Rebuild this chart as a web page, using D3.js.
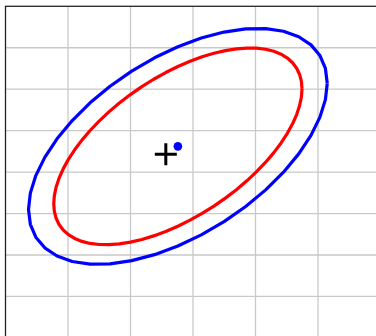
<!DOCTYPE html>
<html>
<head>
<meta charset="utf-8">
<script src="https://cdn.jsdelivr.net/npm/d3@7"></script>
<style>
  html, body { margin: 0; padding: 0; background: #fff; overflow: hidden; }
  svg { display: block; }
</style>
</head>
<body>
<script>
// ---- data ----
const xTicks = [-2, -1, 0, 1, 2];
const yTicks = [-3, -2, -1, 0, 1, 2, 3];
const xDomain = [-3, 3];
const yDomain = [4, -4];

// estimated mean (blue dot) and true centre (black plus)
const estMean = [-0.242, 0.621];
const trueMean = [-0.435, 0.43];

// confidence ellipses: [halfWidthX, halfHeightY, correlation]
const blueEllipse = [2.39, 2.846, 0.535];
const redEllipse = [1.986, 2.373, 0.584];

// ---- layout ----
const W = 376, H = 336;
const svg = d3.select("body").append("svg").attr("width", W).attr("height", H);

const x = d3.scaleLinear().domain(xDomain).range([5.5, 380.5]);
const y = d3.scaleLinear().domain(yDomain).range([6.3, 337.9]);

// grid
svg.append("g").selectAll("line").data(xTicks).join("line")
  .attr("x1", d => x(d)).attr("x2", d => x(d))
  .attr("y1", y(yDomain[0])).attr("y2", y(yDomain[1]))
  .attr("stroke", "#c9c9c9").attr("stroke-width", 1.3);
svg.append("g").selectAll("line").data(yTicks).join("line")
  .attr("y1", d => y(d)).attr("y2", d => y(d))
  .attr("x1", x(xDomain[0])).attr("x2", x(xDomain[1]))
  .attr("stroke", "#c9c9c9").attr("stroke-width", 1.3);

// frame
svg.append("rect")
  .attr("x", x(xDomain[0])).attr("y", y(yDomain[0]))
  .attr("width", x(xDomain[1]) - x(xDomain[0]))
  .attr("height", y(yDomain[1]) - y(yDomain[0]))
  .attr("fill", "none").attr("stroke", "#222").attr("stroke-width", 1.3);

function ellipsePoints(center, e, n) {
  const [ax, ay, rho] = e;
  const delta = Math.acos(rho);
  return d3.range(n + 1).map(i => {
    const t = 2 * Math.PI * i / n;
    return [center[0] + ax * Math.cos(t), center[1] + ay * Math.cos(t - delta)];
  });
}
const line = d3.line().x(d => x(d[0])).y(d => y(d[1]));

svg.append("path").attr("d", line(ellipsePoints(estMean, blueEllipse, 40)))
  .attr("fill", "none").attr("stroke", "#0000ff").attr("stroke-width", 3.2)
  .attr("stroke-linejoin", "round");
svg.append("path").attr("d", line(ellipsePoints(estMean, redEllipse, 64)))
  .attr("fill", "none").attr("stroke", "#ff0000").attr("stroke-width", 3.2)
  .attr("stroke-linejoin", "round");

// plus marker
const s = d3.symbol().type(d3.symbolCross);
const px = x(trueMean[0]), py = y(trueMean[1]);
svg.append("path")
  .attr("d", `M${px - 11},${py}H${px + 11}M${px},${py - 11}V${py + 11}`)
  .attr("stroke", "#000").attr("stroke-width", 3).attr("fill", "none");

// estimated mean dot
svg.append("circle").attr("cx", x(estMean[0])).attr("cy", y(estMean[1]))
  .attr("r", 4.3).attr("fill", "#0000ff");
</script>
</body>
</html>
